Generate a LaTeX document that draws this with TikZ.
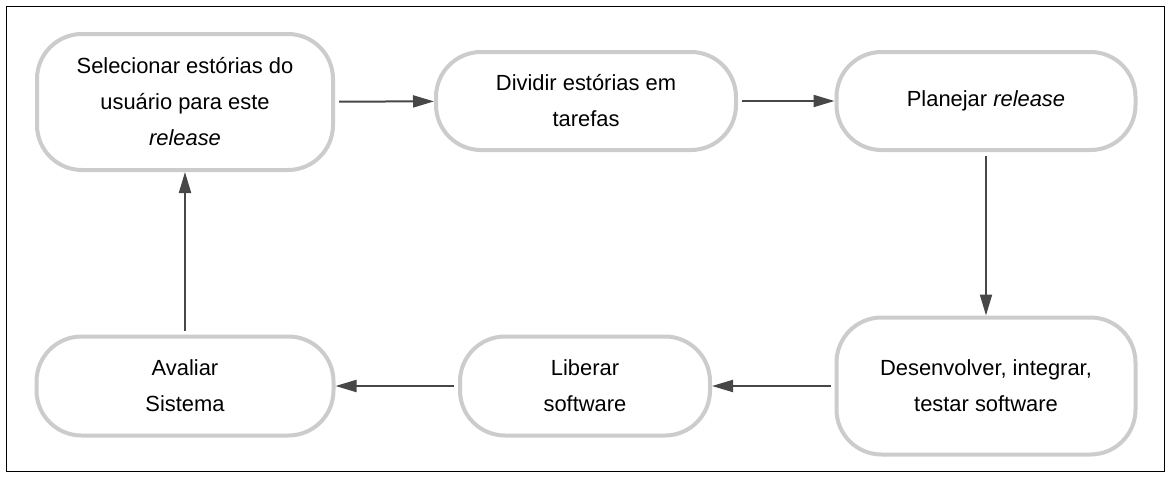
\documentclass[tikz,border=0pt]{standalone}
\usepackage{fontspec}
\setmainfont{Liberation Sans}
\usetikzlibrary{
  arrows.meta
}

\begin{document}
\begin{tikzpicture}[x=1pt,y=-1pt,
  etapa/.style={draw=gray!40, line width=4pt, rounded corners=45pt, fill=white,
    align=center, inner sep=0pt, font=\fontsize{21.9}{36}\selectfont},
  seta/.style={draw=black!72, line width=2pt,
    -{Triangle[length=21pt,width=12pt]}, shorten <=4pt}]
\useasboundingbox (0,0) rectangle (1171,479);
\draw[line width=1pt] (6,6) rectangle (1164,471);
% linha de cima
\node[etapa, minimum width=296pt, minimum height=136pt] (selecionar) at (185,102)
  {Selecionar estórias do\\usuário para este\\\textit{release}};
\node[etapa, minimum width=300pt, minimum height=98pt] (dividir) at (586,101)
  {Dividir estórias em\\tarefas};
\node[etapa, minimum width=299pt, minimum height=98pt] (planejar) at (986,101)
  {Planejar \textit{release}};
% linha de baixo
\node[etapa, minimum width=299pt, minimum height=137pt] (desenvolver) at (986,386)
  {Desenvolver, integrar,\\testar software};
\node[etapa, minimum width=250pt, minimum height=99pt] (liberar) at (585,386)
  {Liberar\\software};
\node[etapa, minimum width=297pt, minimum height=99pt] (avaliar) at (185,386)
  {Avaliar\\Sistema};
% ciclo
\draw[seta] (selecionar) -- (dividir);
\draw[seta] (dividir) -- (planejar);
\draw[seta] (planejar) -- (desenvolver);
\draw[seta] (desenvolver) -- (liberar);
\draw[seta] (liberar) -- (avaliar);
\draw[seta] (avaliar) -- (selecionar);
\end{tikzpicture}
\end{document}
